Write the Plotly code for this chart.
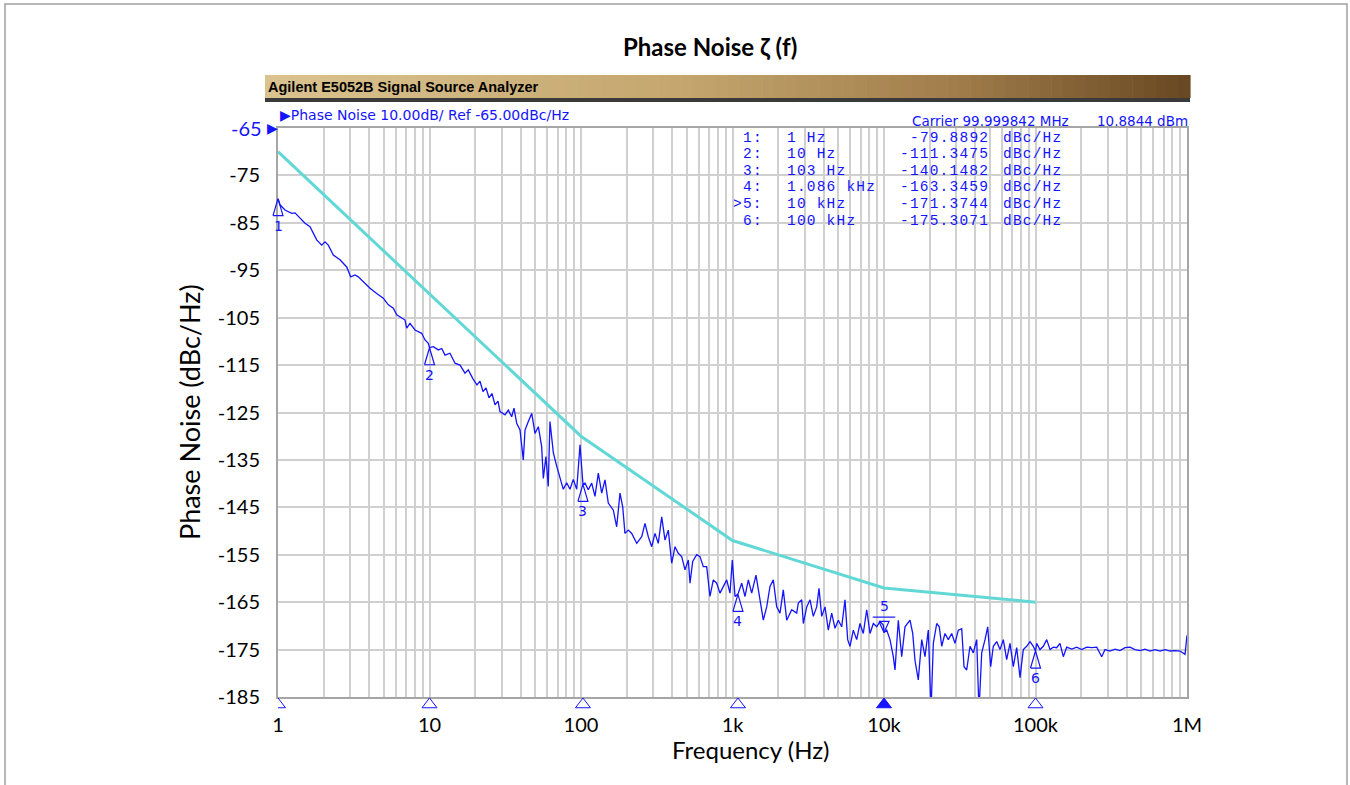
import math
import plotly.graph_objects as go

# ---------------- data ----------------
freq_hz = [
    1.0, 1.031, 1.112, 1.169, 1.231, 1.295, 1.397, 1.507, 1.627, 1.710,
    1.800, 1.943, 2.043, 2.148, 2.317, 2.566, 2.841, 3.019, 3.224, 3.388,
    3.656, 4.049, 4.482, 4.955, 5.346, 5.768, 6.075, 6.388, 6.891, 7.071,
    7.434, 8.022, 8.882, 9.339, 9.818, 10.0, 10.60, 11.43, 12.04, 12.66,
    13.65, 14.74, 15.90, 17.15, 18.03, 19.37, 20.58, 21.54, 22.55, 23.60,
    24.70, 25.85, 27.06, 28.32, 29.20, 31.50, 33.12, 34.88, 36.12, 37.64,
    39.57, 41.6, 42.7, 44.9, 47.3, 49.7, 52.3, 55.0, 56.4, 58.7,
    60.8, 62.4, 65.7, 69.1, 72.7, 76.4, 80.4, 84.6, 88.9, 93.7,
    98.5, 103.0, 106.3, 111.7, 117.7, 123.7, 130.1, 137.0, 144.0, 151.4,
    163.4, 172.0, 180.9, 188.5, 195.1, 205.2, 216.1, 233.2, 251.6, 264.5,
    278.1, 292.9, 307.9, 323.7, 341.0, 358.5, 376.9, 396.9, 417.4, 438.8,
    462.1, 485.9, 510.9, 524.2, 546.1, 580.3, 610.2, 641.6, 675.5, 710.2,
    746.8, 786.4, 826.9, 869.5, 915.6, 962.7, 997.0, 1039, 1086, 1150,
    1209, 1272, 1339, 1429, 1503, 1597, 1682, 1768, 1859, 1957,
    2058, 2164, 2280, 2460, 2653, 2719, 2863, 2934, 3090, 3249,
    3415, 3596, 3724, 3880, 4080, 4289, 4516, 4749, 4993, 5257,
    5528, 5759, 5964, 6271, 6603, 6942, 7300, 7689, 8084, 8500,
    8950, 9410, 9894, 10000, 10420, 10955, 11518, 11820, 12428, 13088,
    13760, 14848, 15470, 16020, 16840, 17740, 18650, 19610, 20430, 21160,
    22280, 23170, 24040, 25270, 26570, 27990, 29420, 30930, 32580, 33740,
    35150, 36960, 38860, 40920, 42370, 44150, 46420, 48370, 50620, 52660,
    55450, 58310, 61310, 64540, 67860, 71360, 75150, 79020, 83090, 87480,
    91990, 96720, 100000, 101800, 107100, 112600, 118600, 124700, 131100, 138000,
    145100, 152600, 160700, 173400, 187100, 201800, 217800, 235000, 253600, 273500,
    287600, 310200, 334900, 361300, 389800, 420600, 453800, 489700, 528300, 570000,
    615100, 663700, 716000, 772600, 833600, 899400, 970000, 1000000,
]
pn_dbc = [
    -79.9, -81.2, -82.3, -82.6, -83.0, -82.9, -84.0, -85.1, -85.8, -87.2,
    -88.6, -89.7, -89.0, -89.7, -91.8, -92.8, -94.3, -96.4, -96.0, -96.4,
    -97.4, -98.8, -99.9, -100.9, -102.3, -103.0, -104.4, -104.8, -105.5, -107.2,
    -106.2, -107.6, -108.3, -109.7, -110.4, -111.3, -111.1, -111.8, -111.5, -112.9,
    -112.5, -114.6, -115.0, -116.7, -116.0, -117.9, -119.2, -118.4, -120.6, -119.8,
    -121.9, -121.0, -123.4, -122.6, -124.8, -125.5, -124.5, -125.9, -124.1, -127.3,
    -128.7, -135.0, -128.7, -126.9, -125.2, -129.4, -128.0, -132.2, -138.9, -134.3,
    -140.6, -126.9, -133.5, -136.3, -139.1, -141.2, -139.8, -141.2, -139.1, -141.2,
    -131.8, -140.1, -139.9, -141.3, -139.9, -142.7, -137.8, -142.0, -139.2, -144.1,
    -145.6, -149.1, -142.0, -144.9, -150.5, -149.8, -150.5, -152.6, -151.2, -148.4,
    -151.2, -153.3, -150.5, -152.6, -147.0, -151.9, -149.8, -156.8, -153.3, -154.7,
    -155.4, -158.2, -156.1, -161.0, -156.4, -155.0, -155.4, -157.5, -157.5, -163.8,
    -160.3, -161.0, -163.1, -161.7, -160.3, -163.1, -156.1, -163.8, -163.3, -161.0,
    -163.8, -160.3, -163.1, -159.3, -163.8, -168.8, -166.0, -161.7, -160.3, -166.0,
    -167.3, -162.4, -168.8, -166.6, -167.3, -165.2, -164.5, -169.5, -166.0, -164.5,
    -168.0, -166.0, -162.1, -168.0, -166.0, -170.9, -167.3, -170.5, -168.8, -170.2,
    -164.5, -172.9, -174.3, -170.9, -172.9, -169.5, -171.6, -166.6, -171.6, -169.5,
    -170.2, -169.1, -169.8, -171.4, -170.9, -172.9, -176.5, -179.3, -168.8, -176.5,
    -170.2, -168.8, -171.6, -177.3, -181.4, -172.9, -176.5, -170.9, -188.0, -173.7,
    -169.5, -170.2, -174.3, -171.6, -172.9, -171.6, -173.7, -170.9, -170.6, -178.6,
    -179.3, -174.3, -175.7, -172.9, -188.0, -175.7, -172.9, -170.2, -178.6, -174.3,
    -173.3, -175.0, -172.9, -177.1, -173.7, -178.6, -174.6, -180.9, -175.0, -174.3,
    -173.3, -174.3, -175.3, -173.7, -175.0, -174.3, -172.9, -175.0, -174.5, -174.6,
    -173.7, -176.5, -174.5, -174.9, -174.5, -175.0, -174.5, -174.6, -174.5, -176.5,
    -175.0, -175.3, -174.9, -175.2, -174.6, -174.5, -175.0, -175.2, -174.9, -175.3,
    -175.0, -175.3, -175.0, -175.3, -175.2, -175.3, -176.0, -172.0,
]

mask_freq = [1, 10, 100, 1000, 10000, 100000]
mask_dbc = [-70, -100, -130, -152, -162, -165]

marker_freq = [1, 10, 103, 1086, 10000, 100000]
marker_dbc = [-79.8892, -111.3475, -140.1482, -163.3459, -171.3744, -175.3071]
marker_ids = ["1:", "2:", "3:", "4:", ">5:", "6:"]
marker_labels = ["1", "2", "3", "4", "5", "6"]
marker_freq_text = ["1 Hz", "10 Hz", "103 Hz", "1.086 kHz", "10 kHz", "100 kHz"]
marker_val_text = ["-79.8892", "-111.3475", "-140.1482", "-163.3459", "-171.3744", "-175.3071"]
active_marker = 4

x_tick_vals = [1, 10, 100, 1000, 10000, 100000, 1000000]
x_tick_text = ["1", "10", "100", "1k", "10k", "100k", "1M"]
y_tick_vals = [-65, -75, -85, -95, -105, -115, -125, -135, -145, -155, -165, -175, -185]

# ---------------- geometry / style ----------------
W, H = 1350, 785
L, R, T, B = 278, 1187, 128, 697
STRIP = 15                      # thin strip under the axis for marker indicators
LPAD = 10                       # thin strip left of the axis (marker 1 overlay)
Y_TOP, Y_BOT = -65, -185
px_per_db = (B - T) / (Y_TOP - Y_BOT)
px_per_dec = (R - L) / 6.0

BLUE = "#1414ff"
CYAN = "#62d8d6"
GRID = "#d0d0d0"
AXIS = "#a6a6a6"
UI_FONT = "DejaVu Sans"
MONO = "Liberation Mono"
LABEL_FONT = "Lato"

PL = L - LPAD                   # left of paper plotting area
PB = B + STRIP                  # bottom of paper plotting area


def px(x):
    return (x - PL) / (R - PL)


def py(y):
    return (PB - y) / (PB - T)


minor_vals = []
for dec in range(6):
    for m in range(2, 10):
        minor_vals.append(m * 10 ** dec)

fig = go.Figure()

# spec mask
fig.add_trace(go.Scatter(x=mask_freq, y=mask_dbc, mode="lines",
                         line=dict(color=CYAN, width=3), hoverinfo="skip"))
# measured phase noise
fig.add_trace(go.Scatter(x=freq_hz, y=pn_dbc, mode="lines",
                         line=dict(color=BLUE, width=1.3), hoverinfo="skip"))

# marker triangles on the trace (tall, hollow) - overlay axes that reach a bit left
k = 10 ** (5 / px_per_dec)
h_db = 17 / px_per_db
tx, ty = [], []
for i, (f, v) in enumerate(zip(marker_freq, marker_dbc)):
    if i == active_marker:
        hh = 11 / px_per_db
        tx += [f / k, f * k, f, f / k, None, f / (k * 1.1), f * k * 1.1, None]
        ty += [v + hh, v + hh, v, v + hh, None, v + hh + 0.9, v + hh + 0.9, None]
    else:
        tx += [f / k, f * k, f, f / k, None]
        ty += [v - h_db, v - h_db, v, v - h_db, None]
fig.add_trace(go.Scatter(x=tx, y=ty, xaxis="x3", yaxis="y3", mode="lines",
                         line=dict(color=BLUE, width=1.2), hoverinfo="skip"))

# marker indicators in the strip under the frequency axis
fig.add_trace(go.Scatter(
    x=marker_freq, y=[0.5] * len(marker_freq), xaxis="x2", yaxis="y2", mode="markers",
    hoverinfo="skip",
    marker=dict(symbol=["triangle-up" if i == active_marker else "triangle-up-open"
                        for i in range(len(marker_freq))],
                size=13, color=BLUE, line=dict(color=BLUE, width=1))))

annotations = []
# marker number labels
for i, (f, v) in enumerate(zip(marker_freq, marker_dbc)):
    annotations.append(dict(
        x=math.log10(f), y=v, xref="x", yref="y", text=marker_labels[i],
        showarrow=False, yshift=(26 if i == active_marker else -27),
        font=dict(family=UI_FONT, size=14, color=BLUE)))

# reference level: blue arrow + blue tick label
annotations.append(dict(x=0, y=Y_TOP, xref="x", yref="y", text="▶", showarrow=False,
                        xanchor="right", xshift=2, font=dict(family=UI_FONT, size=14, color=BLUE)))
annotations.append(dict(x=px(L), y=Y_TOP, xref="paper", yref="y", text=str(Y_TOP),
                        showarrow=False, xanchor="right", xshift=-14,
                        font=dict(family=LABEL_FONT, size=20, color=BLUE)))


def ann(x, y, text, size, color="black", family=LABEL_FONT, xanchor="center",
        yanchor="middle", textangle=0):
    annotations.append(dict(x=px(x), y=py(y), xref="paper", yref="paper", text=text,
                            showarrow=False, xanchor=xanchor, yanchor=yanchor,
                            textangle=textangle, borderpad=0,
                            font=dict(family=family, size=size, color=color)))


ann(710, 47, "<b>Phase Noise ζ (f)</b>", 24)
ann(267, 87, "<b>Agilent E5052B Signal Source Analyzer</b>", 14.5, family="Liberation Sans",
    xanchor="left")
ann(279, 115, "▶Phase Noise 10.00dB/ Ref -65.00dBc/Hz", 14, color=BLUE, family=UI_FONT,
    xanchor="left")
ann(911, 121, "Carrier 99.999842 MHz", 13.5, color=BLUE, family=UI_FONT, xanchor="left")
ann(1189, 121, "10.8844 dBm", 13.5, color=BLUE, family=UI_FONT, xanchor="right")


def spaced(s):
    return '<span style="letter-spacing:1.2px">%s</span>' % s


row_y0, row_dy = 137.5, 16.6
for i in range(len(marker_ids)):
    yy = row_y0 + i * row_dy
    ann(764, yy, spaced(marker_ids[i]), 14.5, color=BLUE, family=MONO, xanchor="right")
    ann(786, yy, spaced(marker_freq_text[i]), 14.5, color=BLUE, family=MONO, xanchor="left")
    ann(990, yy, spaced(marker_val_text[i]), 14.5, color=BLUE, family=MONO, xanchor="right")
    ann(1002, yy, spaced("dBc/Hz"), 14.5, color=BLUE, family=MONO, xanchor="left")

ann(190, 412, "Phase Noise (dBc/Hz)", 27, textangle=-90)
ann(750, 749, "Frequency (Hz)", 24)

# shapes: outer border, header bar gradient
shapes = [dict(type="rect", xref="paper", yref="paper", x0=px(5), x1=px(1347),
               y0=py(4), y1=py(800), line=dict(color="#a0a0a0", width=1.5),
               fillcolor="rgba(0,0,0,0)", layer="below")]
stops = [(0.0, (219, 195, 143)), (0.45, (196, 166, 110)), (0.75, (160, 124, 74)),
         (1.0, (104, 72, 34))]


def grad(t):
    for (t0, c0), (t1, c1) in zip(stops[:-1], stops[1:]):
        if t <= t1:
            u = (t - t0) / (t1 - t0)
            return "rgb(%d,%d,%d)" % tuple(round(a + (b - a) * u) for a, b in zip(c0, c1))
    return "rgb(%d,%d,%d)" % stops[-1][1]


n_slices = 80
hx0, hx1 = 265, 1190
for s in range(n_slices):
    a = hx0 + (hx1 - hx0) * s / n_slices
    b = hx0 + (hx1 - hx0) * (s + 1) / n_slices + 0.6
    shapes.append(dict(type="rect", xref="paper", yref="paper", x0=px(a), x1=px(b),
                       y0=py(98), y1=py(75), line=dict(width=0),
                       fillcolor=grad((s + 0.5) / n_slices), layer="below"))
shapes.append(dict(type="rect", xref="paper", yref="paper", x0=px(hx0), x1=px(hx1),
                   y0=py(102), y1=py(98), line=dict(width=0), fillcolor="#3a3a3a",
                   layer="below"))

y_tick_text = ["" if v == Y_TOP else str(v) for v in y_tick_vals]
y_dom = [STRIP / (PB - T), 1]
x_dom = [LPAD / (R - PL), 1]

fig.update_layout(
    width=W, height=H,
    margin=dict(l=PL, r=W - R, t=T, b=H - PB, pad=0),
    paper_bgcolor="white", plot_bgcolor="rgba(0,0,0,0)",
    showlegend=False,
    annotations=annotations,
    shapes=shapes,
    xaxis=dict(type="log", range=[0, 6], domain=x_dom, tickvals=x_tick_vals,
               ticktext=x_tick_text, anchor="y", ticks="", ticklabelstandoff=9,
               showgrid=True, gridcolor=GRID, gridwidth=1.6,
               minor=dict(tickvals=minor_vals, showgrid=True, gridcolor=GRID,
                          gridwidth=1.6, ticks=""),
               showline=True, linecolor=AXIS, linewidth=2, mirror=True, zeroline=False,
               tickfont=dict(family=LABEL_FONT, size=20, color="black"), fixedrange=True),
    yaxis=dict(range=[Y_BOT, Y_TOP], domain=y_dom, anchor="x",
               tickvals=y_tick_vals, ticktext=y_tick_text,
               ticks="", ticklabelstandoff=12, showgrid=True, gridcolor=GRID, gridwidth=1.6,
               showline=True, linecolor=AXIS, linewidth=2, mirror=True, zeroline=False,
               tickfont=dict(family=LABEL_FONT, size=20, color="black"), fixedrange=True),
    xaxis2=dict(type="log", range=[0, 6], domain=x_dom, anchor="y2", visible=False,
                fixedrange=True),
    yaxis2=dict(range=[0, 1], domain=[0, y_dom[0]], anchor="x2", visible=False,
                fixedrange=True),
    xaxis3=dict(type="log", range=[-LPAD / px_per_dec, 6], domain=[0, 1], anchor="y3",
                visible=False, fixedrange=True),
    yaxis3=dict(range=[Y_BOT, Y_TOP], domain=y_dom, anchor="x3", visible=False,
                fixedrange=True),
)

fig.write_html("out.html", config={"displayModeBar": False},
               post_script="document.body.style.margin='0px';"
                           "document.body.style.overflow='hidden';")
